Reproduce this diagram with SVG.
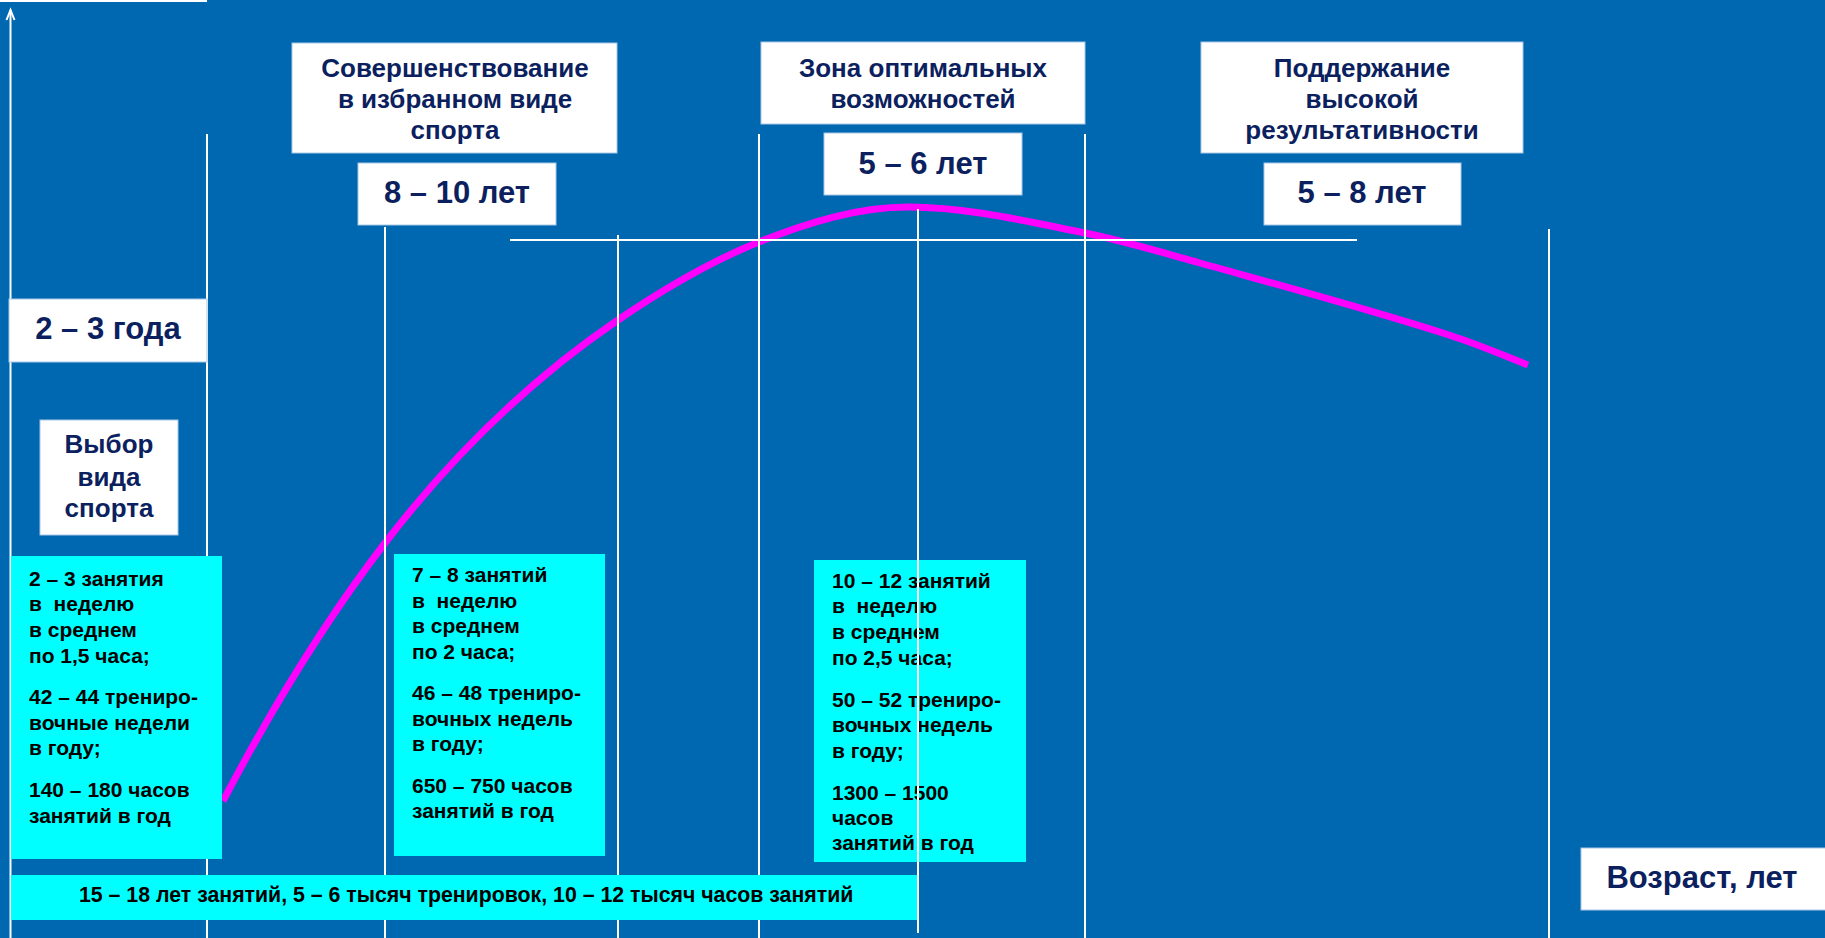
<svg xmlns="http://www.w3.org/2000/svg" width="1825" height="938" viewBox="0 0 1825 938">
<style>
.bg{fill:#0067b1}
.grid{stroke:#ffffff;stroke-width:2;fill:none}
.curve{stroke:#ff00ff;stroke-width:7;fill:none}
.wbox{fill:#ffffff;stroke:#a9c8e6;stroke-width:1}
.cbox{fill:#00ffff}
.h{font-family:"Liberation Sans",Arial,sans-serif;font-weight:bold;fill:#0c1f5e;text-anchor:middle}
.h1{font-size:26px}
.h2{font-size:31px}
.c{font-family:"Liberation Sans",Arial,sans-serif;font-weight:bold;fill:#000000;font-size:21px;white-space:pre}
.t{font-size:21.3px}
</style>
<rect class="bg" x="0" y="0" width="1825" height="938"/>
<g id="connectors">
  <path class="curve" d="M223,801 C277,698.4 331,613.2 385,543 C462.7,442 540.3,372.8 618,320 C665,288 712,260.8 759,242 C808.7,222.1 858.3,207 908,207 C967,207 1026,221.2 1085,233 C1123.3,240.7 1161.7,252.3 1200,263 C1283,286.2 1366,308.4 1449,335 C1475.3,343.4 1501.7,354.5 1528,365"/>
  <line class="grid" x1="0" y1="1" x2="207" y2="1"/>
  <line class="grid" x1="10.5" y1="938" x2="10.5" y2="10"/>
  <polyline class="grid" points="6.5,20 10.5,10 14.5,20" stroke-width="1.5"/>
  <line class="grid" x1="207" y1="134" x2="207" y2="938"/>
  <line class="grid" x1="385" y1="227" x2="385" y2="938"/>
  <line class="grid" x1="618" y1="235" x2="618" y2="938"/>
  <line class="grid" x1="759" y1="134" x2="759" y2="938"/>
  <line class="grid" x1="1085" y1="134" x2="1085" y2="938"/>
  <line class="grid" x1="1549" y1="229" x2="1549" y2="938"/>
  <line class="grid" x1="510" y1="240" x2="1357" y2="240"/>
</g>
<g id="node-sovershenstvovanie">
  <rect class="wbox" x="292" y="43" width="325" height="110"/>
  <text class="h h1" x="455" y="77">Совершенствование</text>
  <text class="h h1" x="455" y="108">в избранном виде</text>
  <text class="h h1" x="455" y="139">спорта</text>
</g>
<g id="node-8-10">
  <rect class="wbox" x="358" y="163" width="198" height="62"/>
  <text class="h h2" x="457" y="203">8 – 10 лет</text>
</g>
<g id="node-2-3">
  <rect class="wbox" x="9" y="299" width="198" height="63"/>
  <text class="h h2" x="108" y="339">2 – 3 года</text>
</g>
<g id="node-vybor">
  <rect class="wbox" x="40" y="420" width="138" height="115"/>
  <text class="h h1" x="109" y="453">Выбор</text>
  <text class="h h1" x="109" y="486">вида</text>
  <text class="h h1" x="109" y="517">спорта</text>
</g>
<g id="node-zona">
  <rect class="wbox" x="761" y="42" width="324" height="82"/>
  <text class="h h1" x="923" y="77">Зона оптимальных</text>
  <text class="h h1" x="923" y="108">возможностей</text>
</g>
<g id="node-5-6">
  <rect class="wbox" x="824" y="133" width="198" height="62"/>
  <text class="h h2" x="923" y="174">5 – 6 лет</text>
</g>
<g id="node-podderzhanie">
  <rect class="wbox" x="1201" y="42" width="322" height="111"/>
  <text class="h h1" x="1362" y="77">Поддержание</text>
  <text class="h h1" x="1362" y="108">высокой</text>
  <text class="h h1" x="1362" y="139">результативности</text>
</g>
<g id="node-5-8">
  <rect class="wbox" x="1264" y="163" width="197" height="62"/>
  <text class="h h2" x="1362" y="203">5 – 8 лет</text>
</g>
<g id="node-vozrast">
  <rect class="wbox" x="1581" y="848" width="250" height="62"/>
  <text class="h h2" x="1702" y="888">Возраст, лет</text>
</g>
<g id="node-stage1">
  <rect class="cbox" x="11" y="556" width="211" height="303"/>
  <text class="c" x="29" y="586">2 – 3 занятия</text>
  <text class="c" x="29" y="611">в  неделю</text>
  <text class="c" x="29" y="637">в среднем</text>
  <text class="c" x="29" y="663">по 1,5 часа;</text>
  <text class="c" x="29" y="704">42 – 44 трениро-</text>
  <text class="c" x="29" y="730">вочные недели</text>
  <text class="c" x="29" y="755">в году;</text>
  <text class="c" x="29" y="797">140 – 180 часов</text>
  <text class="c" x="29" y="823">занятий в год</text>
</g>
<g id="node-stage2">
  <rect class="cbox" x="394" y="554" width="211" height="302"/>
  <text class="c" x="412" y="582">7 – 8 занятий</text>
  <text class="c" x="412" y="608">в  неделю</text>
  <text class="c" x="412" y="633">в среднем</text>
  <text class="c" x="412" y="659">по 2 часа;</text>
  <text class="c" x="412" y="700">46 – 48 трениро-</text>
  <text class="c" x="412" y="726">вочных недель</text>
  <text class="c" x="412" y="751">в году;</text>
  <text class="c" x="412" y="793">650 – 750 часов</text>
  <text class="c" x="412" y="818">занятий в год</text>
</g>
<g id="node-stage3">
  <rect class="cbox" x="814" y="560" width="212" height="302"/>
  <text class="c" x="832" y="588">10 – 12 занятий</text>
  <text class="c" x="832" y="613">в  неделю</text>
  <text class="c" x="832" y="639">в среднем</text>
  <text class="c" x="832" y="665">по 2,5 часа;</text>
  <text class="c" x="832" y="707">50 – 52 трениро-</text>
  <text class="c" x="832" y="732">вочных недель</text>
  <text class="c" x="832" y="758">в году;</text>
  <text class="c" x="832" y="800">1300 – 1500</text>
  <text class="c" x="832" y="825">часов</text>
  <text class="c" x="832" y="850">занятий в год</text>
</g>
<g id="node-total">
  <rect class="cbox" x="11" y="875" width="906" height="45"/>
  <text class="c t" x="79" y="902">15 – 18 лет занятий, 5 – 6 тысяч тренировок, 10 – 12 тысяч часов занятий</text>
</g>
<g id="peak-line">
  <line class="grid" x1="918" y1="209" x2="918" y2="933"/>
</g>
</svg>
